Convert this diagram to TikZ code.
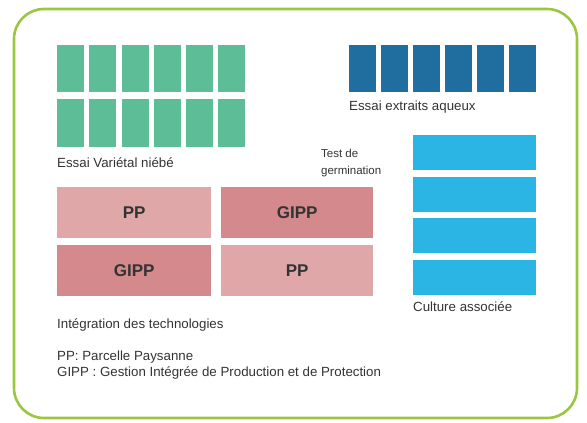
\documentclass[tikz,border=0pt]{standalone}
\usepackage{fontspec}
\setmainfont{Liberation Sans}
\definecolor{frame}{HTML}{9DC63F}
\definecolor{vgreen}{HTML}{5CBD97}
\definecolor{dblue}{HTML}{1F6E9F}
\definecolor{cyanb}{HTML}{2AB5E4}
\definecolor{pinkl}{HTML}{E0A7A9}
\definecolor{pinkd}{HTML}{D4898C}
\definecolor{txt}{HTML}{333333}
\begin{document}
\begin{tikzpicture}[x=1pt,y=-1pt,
  lbl/.style={anchor=west,inner sep=0,text=txt,font=\fontsize{13.3}{15}\selectfont},
  pptext/.style={font=\fontsize{17}{19}\selectfont\bfseries,text=txt}]
\useasboundingbox (0,0) rectangle (587,423);
\draw[frame,line width=2.6pt,rounded corners=30pt] (14,9) rectangle (577,418);
% green variety trial
\foreach \i/\x in {1/57,2/89,3/122,4/154,5/186,6/218}{
  \fill[vgreen] (\x,45) rectangle ++(26.5,47);
  \fill[vgreen] (\x,99) rectangle ++(26.5,48);
}
\node[lbl] (lv) at (57,163) {Essai Variétal niébé};
% dark blue
\foreach \x in {349,381,413,445,477,509}{
  \fill[dblue] (\x,45) rectangle ++(27,47);
}
\node[lbl] (lb) at (349,107) {Essai extraits aqueux};
\node[lbl,align=left,font=\fontsize{11.5}{17}\selectfont] (lt) at (321,163) {Test de\\germination};
% cyan
\foreach \y/\h in {135/35,177/35,218/35,260/35}{
  \fill[cyanb] (413,\y) rectangle ++(123,\h);
}
\node[lbl] (lc) at (413,307) {Culture associée};
% pink
\node[fill=pinkl,minimum width=154pt,minimum height=51pt,anchor=north west,inner sep=0,pptext] (p1) at (57,187) {PP};
\node[fill=pinkd,minimum width=152pt,minimum height=51pt,anchor=north west,inner sep=0,pptext] (p2) at (221,187) {GIPP};
\node[fill=pinkd,minimum width=154pt,minimum height=51pt,anchor=north west,inner sep=0,pptext] (p3) at (57,245) {GIPP};
\node[fill=pinkl,minimum width=152pt,minimum height=51pt,anchor=north west,inner sep=0,pptext] (p4) at (221,245) {PP};
\node[lbl] (li) at (57,325) {Intégration des technologies};
\node[lbl] (lpp) at (57,357) {PP: Parcelle Paysanne};
\node[lbl] (lg) at (57,373) {GIPP : Gestion Intégrée de Production et de Protection};
\end{tikzpicture}
\end{document}
